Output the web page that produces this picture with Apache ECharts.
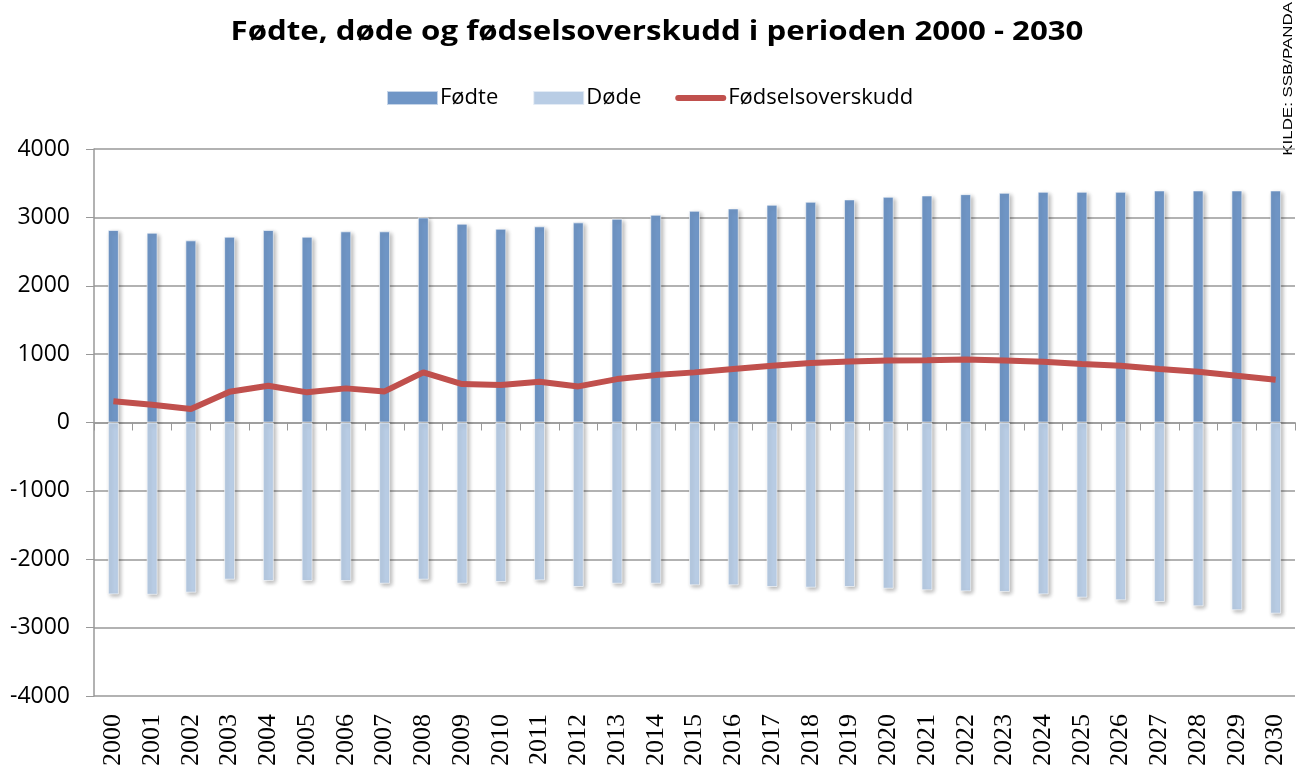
<!DOCTYPE html>
<html>
<head>
<meta charset="utf-8">
<script src="https://cdn.jsdelivr.net/npm/echarts@6/dist/echarts.min.js"></script>
<style>
  html, body { margin: 0; padding: 0; background: #fff; }
  #main { width: 1296px; height: 769px; }
</style>
</head>
<body>
<div id="main"></div>
<script>
var years = ["2000", "2001", "2002", "2003", "2004", "2005", "2006", "2007", "2008", "2009",
  "2010", "2011", "2012", "2013", "2014", "2015", "2016", "2017", "2018", "2019",
  "2020", "2021", "2022", "2023", "2024", "2025", "2026", "2027", "2028", "2029", "2030"];

var fodte = [2815, 2776, 2664, 2718, 2815, 2718, 2796, 2796, 3000, 2908,
  2835, 2869, 2927, 2981, 3039, 3097, 3131, 3185, 3229, 3263,
  3302, 3321, 3340, 3360, 3375, 3375, 3375, 3394, 3394, 3394, 3394];

var dode = [-2514, -2520, -2489, -2299, -2319, -2319, -2319, -2358, -2299, -2358,
  -2333, -2309, -2406, -2358, -2358, -2382, -2382, -2406, -2416, -2406,
  -2431, -2455, -2470, -2480, -2514, -2562, -2601, -2625, -2689, -2747, -2796];

var overskudd = [310, 260, 197, 450, 537, 441, 499, 455, 733, 562,
  547, 596, 528, 635, 693, 733, 781, 829, 869, 893,
  908, 912, 922, 908, 888, 854, 829, 781, 742, 683, 625];

var chart = echarts.init(document.getElementById("main"));

var barShadow = {
  shadowBlur: 4,
  shadowOffsetX: 2,
  shadowOffsetY: 2,
  shadowColor: "rgba(0,0,0,0.3)",
  borderColor: "rgba(255,255,255,0.6)",
  borderWidth: 1
};

var option = {
  animation: false,
  graphic: [
    {
      // title, stretched a bit to match the wide original
      type: "text",
      x: 657,
      y: 33,
      scaleX: 1.2,
      style: {
        text: "Fødte, døde og fødselsoverskudd i perioden 2000 - 2030",
        fontFamily: "Open Sans",
        fontWeight: "bold",
        fontSize: 26,
        fill: "#000",
        align: "center",
        verticalAlign: "middle"
      }
    },
    {
      // source note, reads bottom to top along the right edge
      type: "text",
      x: 1295,
      y: 2,
      rotation: Math.PI / 2,
      scaleX: 1.3,
      style: {
        text: "KILDE: SSB/PANDA",
        fontFamily: "Liberation Sans",
        fontSize: 13,
        fill: "#000",
        align: "right",
        verticalAlign: "bottom"
      }
    }
  ],
  legend: {
    top: 87,
    left: 386,
    padding: 0,
    itemWidth: 51,
    itemHeight: 14,
    itemGap: 34,
    textStyle: { fontFamily: "Open Sans", fontSize: 22, color: "#000", padding: [0, 0, 0, -3] },
    data: [
      { name: "Fødte", icon: "rect" },
      { name: "Døde", icon: "rect" },
      { name: "Fødselsoverskudd", icon: "path://M3,0 L48,0 A3,3 0 0 1 48,6 L3,6 A3,3 0 0 1 3,0 Z" }
    ]
  },
  grid: { left: 94, right: 1, top: 149, bottom: 72 },
  xAxis: [
    {
      type: "category",
      data: years,
      position: "bottom",
      axisLine: { onZero: false, show: false },
      axisTick: { show: false },
      axisLabel: {
        rotate: 90,
        margin: 18,
        fontFamily: "Liberation Serif",
        fontSize: 26,
        color: "#000"
      }
    },
    {
      type: "category",
      data: years,
      position: "top",
      axisLine: { onZero: true, lineStyle: { color: "#999", width: 1.5 } },
      axisTick: { show: true, inside: true, length: 8, lineStyle: { color: "#999" } },
      axisLabel: { show: false }
    }
  ],
  yAxis: {
    type: "value",
    min: -4000,
    max: 4000,
    interval: 1000,
    axisLine: { show: true, lineStyle: { color: "#999", width: 1.5 } },
    axisTick: { show: true, length: 8, lineStyle: { color: "#999" } },
    axisLabel: {
      margin: 24,
      fontFamily: "Open Sans",
      fontSize: 23,
      color: "#000",
      formatter: function (v) { return String(v); }
    },
    splitLine: { lineStyle: { color: "#999", width: 1.5 } }
  },
  series: [
    {
      name: "Fødte",
      type: "bar",
      stack: "total",
      barWidth: 11,
      data: fodte,
      itemStyle: Object.assign({ color: "#7096C6" }, barShadow)
    },
    {
      name: "Døde",
      type: "bar",
      stack: "total",
      barWidth: 11,
      data: dode,
      itemStyle: Object.assign({ color: "#B9CDE5" }, barShadow)
    },
    {
      name: "Fødselsoverskudd",
      type: "line",
      data: overskudd,
      symbol: "none",
      lineStyle: { color: "#C0504D", width: 6 },
      itemStyle: { color: "#C0504D" },
      z: 5
    }
  ]
};

option && chart.setOption(option);
</script>
</body>
</html>
